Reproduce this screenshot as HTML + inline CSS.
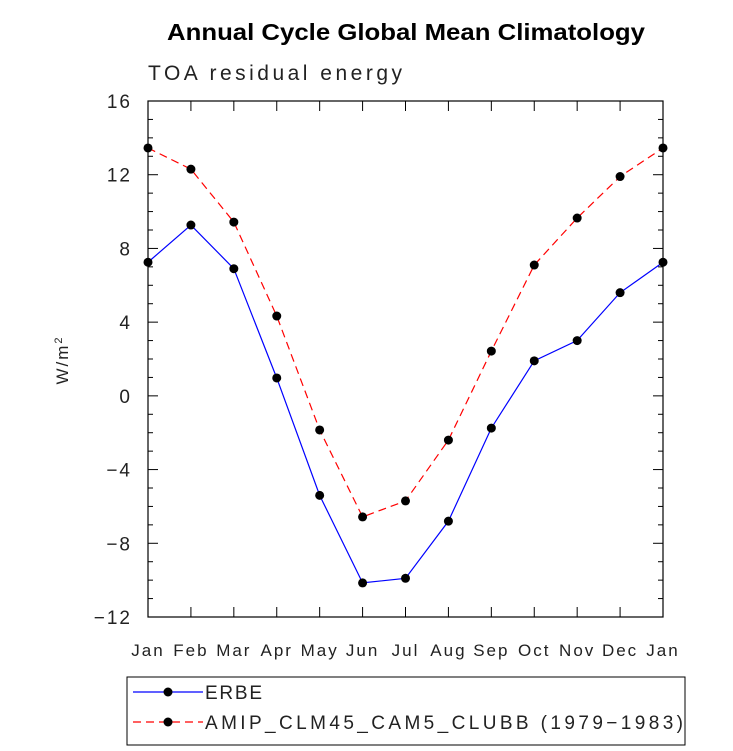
<!DOCTYPE html>
<html><head><meta charset="utf-8"><style>
body{margin:0;background:#fff;}
svg{display:block;font-family:"Liberation Sans",sans-serif;}
</style></head><body>
<svg id="chart" width="733" height="751">
<text x="167" y="40" textLength="478" lengthAdjust="spacingAndGlyphs" font-size="23" font-weight="bold">Annual Cycle Global Mean Climatology</text>
<text x="148" y="80" textLength="254" lengthAdjust="spacing" font-size="21" fill="#222">TOA residual energy</text>
<text transform="translate(68,360) rotate(-90)" text-anchor="middle" font-size="17" letter-spacing="2" fill="#222">W/m<tspan dy="-6" font-size="11">2</tspan></text>
<g id="axes"></g>
<g id="series"></g>
<g>
<rect x="127" y="677" width="558" height="68" fill="none" stroke="#000" stroke-width="1"/>
<line x1="133" y1="692" x2="203" y2="692" stroke="#0000ff" stroke-width="1.2"/>
<circle cx="168" cy="692" r="4.5" fill="#000"/>
<text x="205" y="699" textLength="57" lengthAdjust="spacing" font-size="19" fill="#222">ERBE</text>
<line x1="133" y1="722" x2="203" y2="722" stroke="#ff0000" stroke-width="1.2" stroke-dasharray="8,5"/>
<circle cx="168" cy="722" r="4.5" fill="#000"/>
<text x="205" y="729" textLength="478" lengthAdjust="spacing" font-size="19" fill="#222">AMIP_CLM45_CAM5_CLUBB (1979−1983)</text>
</g>
</svg>
<script>
const months=["Jan","Feb","Mar","Apr","May","Jun","Jul","Aug","Sep","Oct","Nov","Dec","Jan"];
const erbe=[7.25,9.27,6.9,0.97,-5.4,-10.15,-9.9,-6.8,-1.75,1.9,3.0,5.6,7.25];
const model=[13.45,12.3,9.43,4.33,-1.85,-6.57,-5.7,-2.4,2.43,7.1,9.65,11.9,13.45];
const yTicks=[-12,-8,-4,0,4,8,12,16];
const X0=148,X1=663,Y0=101,Y1=617,YMIN=-12,YMAX=16;
const xs=i=>X0+(X1-X0)*i/(months.length-1);
const ys=v=>Y0+(YMAX-v)*(Y1-Y0)/(YMAX-YMIN);
const NS="http://www.w3.org/2000/svg";
function mk(t,a,p){const e=document.createElementNS(NS,t);for(const k in a)e.setAttribute(k,a[k]);p.appendChild(e);return e;}
const ax=document.getElementById('axes');
const fr=mk('rect',{x:X0,y:Y0,width:X1-X0,height:Y1-Y0,fill:'none',stroke:'#000','stroke-width':1.2},ax);


for(let v=YMIN;v<=YMAX;v++){
  const major=(v%4===0),L=major?10:5,y=ys(v);
  mk('line',{x1:X0,y1:y,x2:X0+L,y2:y,stroke:'#000'},ax);
  mk('line',{x1:X1,y1:y,x2:X1-L,y2:y,stroke:'#000'},ax);
}
yTicks.forEach(v=>{
  const t=mk('text',{x:X0-16,y:ys(v)+7,'text-anchor':'end','font-size':19,'letter-spacing':2,fill:'#222'},ax);
  t.textContent=(v<0?'−'+Math.abs(v):v);
  
  
});
months.forEach((m,i)=>{
  const x=xs(i);
  mk('line',{x1:x,y1:Y1,x2:x,y2:Y1-10,stroke:'#000'},ax);
  mk('line',{x1:x,y1:Y0,x2:x,y2:Y0+10,stroke:'#000'},ax);
  const t=mk('text',{x:x,y:656,'text-anchor':'middle','font-size':17,'letter-spacing':2,fill:'#222'},ax);
  t.textContent=m;
  
  
});
const sg=document.getElementById('series');
function draw(vals,color,dash,name){
  const p=mk('polyline',{points:vals.map((v,i)=>xs(i)+','+ys(v)).join(' '),fill:'none',stroke:color,'stroke-width':1.2,'stroke-dasharray':dash},sg);
  
  
  vals.forEach((v,i)=>{
    const c=mk('circle',{cx:xs(i),cy:ys(v),r:4.5,fill:'#000'},sg);
    
    
  });
}
draw(erbe,'#0000ff','none','erbe');
draw(model,'#ff0000','8,5','model');
</script>
</body></html>
